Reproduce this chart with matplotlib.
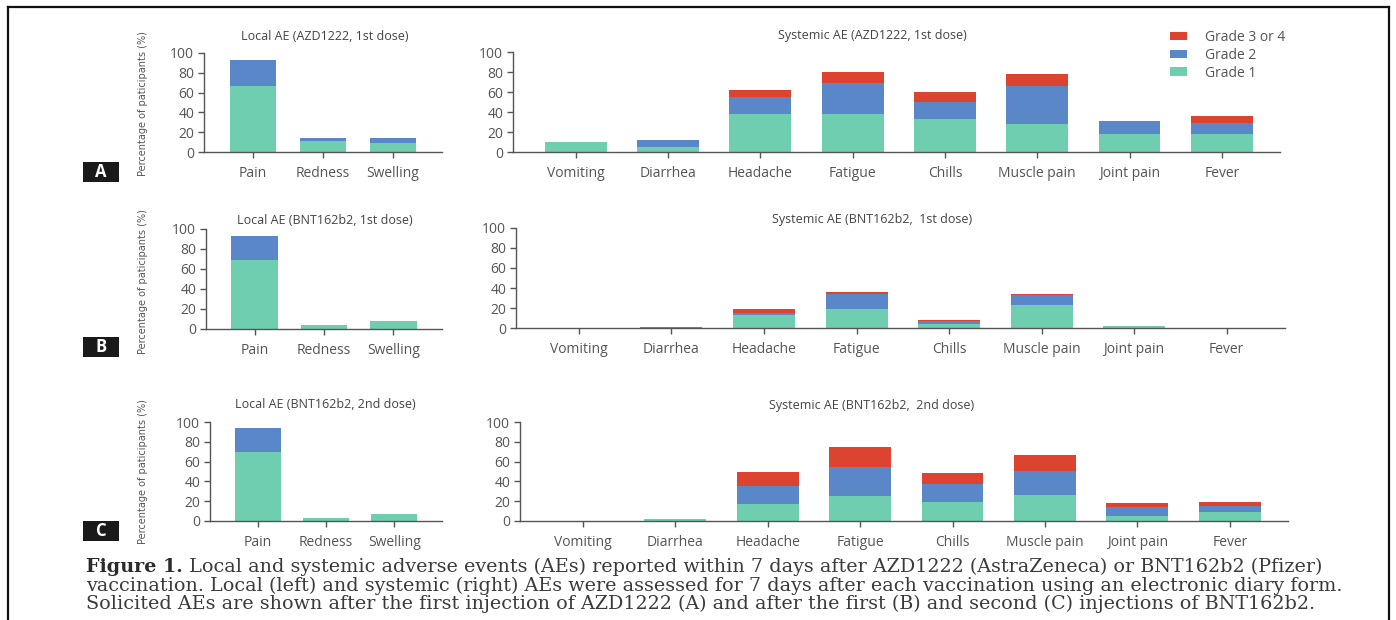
"""
Local and systemic adverse events after AZD1222 / BNT162b2 vaccination.
Three rows (A, B, C) of stacked bar charts plus figure caption.
"""

import matplotlib
matplotlib.use('Agg')
import matplotlib.pyplot as plt
from matplotlib.patches import Patch, Rectangle
from matplotlib.lines import Line2D
import numpy as np

# --- data (percent of participants) ---
local_events = ["Pain", "Redness", "Swelling"]
systemic_events = ["Vomiting", "Diarrhea", "Headache", "Fatigue",
                   "Chills", "Muscle pain", "Joint pain", "Fever"]
grade_labels = ["Grade 1", "Grade 2", "Grade 3 or 4"]

# A: AZD1222, 1st dose
a_local_g1 = [67, 11.5, 9]
a_local_g2 = [26, 2.5, 5]
a_local_g3 = [0, 0, 0]
a_sys_g1 = [10, 5.5, 38, 38, 33, 28.5, 18, 18]
a_sys_g2 = [0, 6.5, 17, 31, 17, 38, 13.5, 11.5]
a_sys_g3 = [0, 0, 7, 11, 10, 12, 0, 7]

# B: BNT162b2, 1st dose
b_local_g1 = [69, 4, 8]
b_local_g2 = [24, 0, 0]
b_local_g3 = [0, 0, 0]
b_sys_g1 = [0, 0.5, 13, 19, 4.5, 23, 2.5, 0]
b_sys_g2 = [0, 1, 2.5, 15.5, 2.5, 10, 0, 0]
b_sys_g3 = [0, 0, 3.5, 2, 0.8, 1, 0, 0]

# C: BNT162b2, 2nd dose
c_local_g1 = [70, 3, 7]
c_local_g2 = [24, 0, 0]
c_local_g3 = [0, 0, 0]
c_sys_g1 = [0, 2.3, 17, 25, 19, 26, 5.5, 9.5]
c_sys_g2 = [0, 0, 18, 29.5, 18.5, 25, 8.5, 6]
c_sys_g3 = [0, 0, 14, 20, 11, 15.5, 4, 4]

local_titles = ["Local AE (AZD1222, 1st dose)", "Local AE (BNT162b2, 1st dose)",
                "Local AE (BNT162b2, 2nd dose)"]
systemic_titles = ["Systemic AE (AZD1222, 1st dose)", "Systemic AE (BNT162b2,  1st dose)",
                   "Systemic AE (BNT162b2,  2nd dose)"]
panel_letters = ["A", "B", "C"]
ylabel = "Percentage of paticipants (%)"

caption_bold = "Figure 1."
caption_lines = [
    " Local and systemic adverse events (AEs) reported within 7 days after AZD1222 (AstraZeneca) or BNT162b2 (Pfizer)",
    "vaccination. Local (left) and systemic (right) AEs were assessed for 7 days after each vaccination using an electronic diary form.",
    "Solicited AEs are shown after the first injection of AZD1222 (A) and after the first (B) and second (C) injections of BNT162b2.",
]

# --- styling ---
W, H = 1396, 620
GREEN = "#6fcdb0"
BLUE = "#5a87c8"
RED = "#dc4430"
TXT = "#555555"
CAP = "#3a3a3a"
plt.rcParams['font.family'] = ['Open Sans', 'DejaVu Sans']


def px(x, y):
    """pixel position (from top-left) -> figure fraction"""
    return x / W, 1 - y / H


def box(x0, y0, x1, y1):
    l, t = px(x0, y0)
    r, b = px(x1, y1)
    return [l, b, r - l, t - b]


fig = plt.figure(figsize=(W / 100, H / 100), dpi=100)
fig.patch.set_facecolor("white")

rows = [
    (a_local_g1, a_local_g2, a_local_g3, a_sys_g1, a_sys_g2, a_sys_g3),
    (b_local_g1, b_local_g2, b_local_g3, b_sys_g1, b_sys_g2, b_sys_g3),
    (c_local_g1, c_local_g2, c_local_g3, c_sys_g1, c_sys_g2, c_sys_g3),
]
local_boxes = [(204, 53, 442, 152), (206, 229, 442, 329), (210, 422, 442, 521)]
sys_boxes = [(513, 52, 1280, 152), (516, 228, 1285, 328), (520, 422, 1288, 521)]
title_y = [36, 220, 405]
letter_y = [162, 337, 521]
ylabel_y = [104, 282, 472]


def style_axis(ax, labels):
    for s in ["top", "right"]:
        ax.spines[s].set_visible(False)
    for s in ["left", "bottom"]:
        ax.spines[s].set_color("#555555")
        ax.spines[s].set_linewidth(1.0)
    ax.set_ylim(0, 100)
    ax.set_yticks([0, 20, 40, 60, 80, 100])
    ax.set_xticks(np.arange(len(labels)))
    ax.set_xticklabels(labels)
    ax.tick_params(axis="both", colors="#555555", labelcolor=TXT, labelsize=10,
                   length=4, width=1, direction="out", pad=3)
    ax.tick_params(axis="x", pad=6)


def stacked(ax, g1, g2, g3):
    x = np.arange(len(g1))
    g1 = np.array(g1, dtype=float)
    g2 = np.array(g2, dtype=float)
    g3 = np.array(g3, dtype=float)
    ax.bar(x, g1, width=0.67, color=GREEN, zorder=2)
    ax.bar(x, g2, width=0.67, bottom=g1, color=BLUE, zorder=2)
    ax.bar(x, g3, width=0.67, bottom=g1 + g2, color=RED, zorder=2)


for i, (lg1, lg2, lg3, sg1, sg2, sg3) in enumerate(rows):
    ax_l = fig.add_axes(box(*local_boxes[i]))
    stacked(ax_l, lg1, lg2, lg3)
    style_axis(ax_l, local_events)
    ax_l.set_xlim(-0.7, 2.7)

    ax_s = fig.add_axes(box(*sys_boxes[i]))
    stacked(ax_s, sg1, sg2, sg3)
    style_axis(ax_s, systemic_events)
    ax_s.set_xlim(-0.68, 7.63)

    # titles
    fx, fy = px(325, title_y[i])
    fig.text(fx, fy, local_titles[i], ha="center", va="center", fontsize=9, color="#444444")
    fx, fy = px(872, title_y[i])
    fig.text(fx, fy, systemic_titles[i], ha="center", va="center", fontsize=9, color="#444444")

    # y label
    fx, fy = px(143, ylabel_y[i])
    fig.text(fx, fy, ylabel, rotation=90, ha="center", va="center", fontsize=7,
             color=TXT, family=["DejaVu Sans"])

    # panel letter box
    l, b, w, h = box(83, letter_y[i], 119, letter_y[i] + 20)
    fig.add_artist(Rectangle((l, b), w, h, transform=fig.transFigure,
                             facecolor="#1a1a1a", edgecolor="none"))
    fig.text(l + w / 2, b + h / 2, panel_letters[i], ha="center", va="center",
             fontsize=12, fontweight="bold", color="white")

# legend
handles = [Patch(facecolor=c, edgecolor="none") for c in [RED, BLUE, GREEN]]
fig.legend(handles, grade_labels[::-1], loc="upper left",
           bbox_to_anchor=px(1170, 30), frameon=False, fontsize=10,
           handlelength=1.2, handleheight=0.55, labelspacing=0.2,
           handletextpad=1.3, borderaxespad=0, borderpad=0,
           labelcolor=TXT)

# caption, scaled so that the widest line spans the reference width
cap_size = 12
renderer = fig.canvas.get_renderer()
t_bold = fig.text(*px(86, 567), caption_bold, ha="left", va="center",
                  fontsize=cap_size, fontweight="bold", color="#2b2b2b",
                  family="DejaVu Serif")
bold_w = t_bold.get_window_extent(renderer).width
widths = []
for k, line in enumerate(caption_lines):
    t_tmp = fig.text(0, 0, line, fontsize=cap_size, family="DejaVu Serif")
    widths.append(t_tmp.get_window_extent(renderer).width + (bold_w if k == 0 else 0))
    t_tmp.remove()
scale = (1328 - 86) / max(widths)
cap_size = cap_size * scale
t_bold.set_fontsize(cap_size)
bold_w = t_bold.get_window_extent(renderer).width

fig.text(*px(86 + bold_w, 567), caption_lines[0], ha="left", va="center",
         fontsize=cap_size, color=CAP, family="DejaVu Serif")
fig.text(*px(86, 586), caption_lines[1], ha="left", va="center",
         fontsize=cap_size, color=CAP, family="DejaVu Serif")
fig.text(*px(86, 604), caption_lines[2], ha="left", va="center",
         fontsize=cap_size, color=CAP, family="DejaVu Serif")

# frame around the figure (open at the bottom)
for xs, ys in [([8, 8], [H + 5, 7]), ([8, 1389], [7, 7]), ([1389, 1389], [7, H + 5])]:
    fx = [x / W for x in xs]
    fy = [1 - y / H for y in ys]
    fig.add_artist(Line2D(fx, fy, transform=fig.transFigure, color="#111111", linewidth=1.6))

fig.savefig("out.png", dpi=100, facecolor="white")
